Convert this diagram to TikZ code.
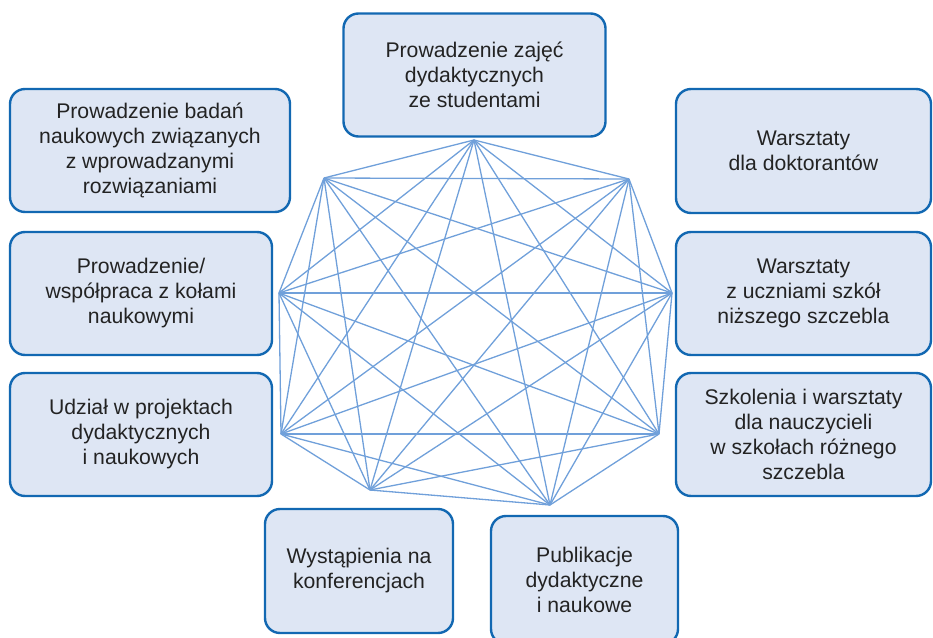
\documentclass[tikz,border=0pt]{standalone}
\usepackage{fontspec}
\setmainfont{Liberation Sans}
\definecolor{boxborder}{RGB}{18,104,178}
\definecolor{boxfill}{RGB}{222,230,244}
\definecolor{edgeblue}{RGB}{112,160,218}
\definecolor{txt}{RGB}{35,35,35}
\begin{document}
\begin{tikzpicture}[x=1bp,y=-1bp,
  box/.style={draw=boxborder, fill=boxfill, line width=2.4bp, rounded corners=15bp,
    align=center, text=txt, inner sep=2bp,
    font=\fontsize{21.2bp}{25bp}\selectfont},
  link/.style={draw=edgeblue, line width=1.3bp}]
\useasboundingbox (0,0) rectangle (933,638);
% vertices of the network
\coordinate (p1) at (474,140);
\coordinate (p2) at (629,179);
\coordinate (p3) at (672,293);
\coordinate (p4) at (659,434);
\coordinate (p5) at (550,505);
\coordinate (p6) at (370,490);
\coordinate (p7) at (281,434);
\coordinate (p8) at (279,293);
\coordinate (p9) at (324,178);
\foreach \i in {1,...,8}{
  \pgfmathtruncatemacro{\s}{\i+1}
  \foreach \j in {\s,...,9}{
    \draw[link] (p\i) -- (p\j);
  }
}
% boxes
\node[box, minimum width=262bp, minimum height=123bp] (top) at (474.5,75)
  {Prowadzenie zajęć\\dydaktycznych\\ze studentami};
\node[box, minimum width=280bp, minimum height=123bp] (ul) at (150,150.5)
  {Prowadzenie badań\\naukowych związanych\\z wprowadzanymi\\rozwiązaniami};
\node[box, minimum width=262bp, minimum height=123bp] (l2) at (141,293.5)
  {Prowadzenie/\\współpraca z kołami\\naukowymi};
\node[box, minimum width=262bp, minimum height=123bp] (l3) at (141,434.5)
  {Udział w projektach\\dydaktycznych\\i naukowych};
\node[box, minimum width=255bp, minimum height=124bp] (r1) at (803.5,151)
  {Warsztaty\\dla doktorantów};
\node[box, minimum width=255bp, minimum height=123bp] (r2) at (803.5,293.5)
  {Warsztaty\\z uczniami szkół\\niższego szczebla};
\node[box, minimum width=255bp, minimum height=123bp] (r3) at (803.5,434.5)
  {Szkolenia i warsztaty\\dla nauczycieli\\w szkołach różnego\\szczebla};
\node[box, minimum width=188bp, minimum height=124bp] (b1) at (359,571)
  {Wystąpienia na\\konferencjach};
\node[box, minimum width=187bp, minimum height=128bp] (b2) at (584.5,580)
  {Publikacje\\dydaktyczne\\i naukowe};
\end{tikzpicture}
\end{document}
